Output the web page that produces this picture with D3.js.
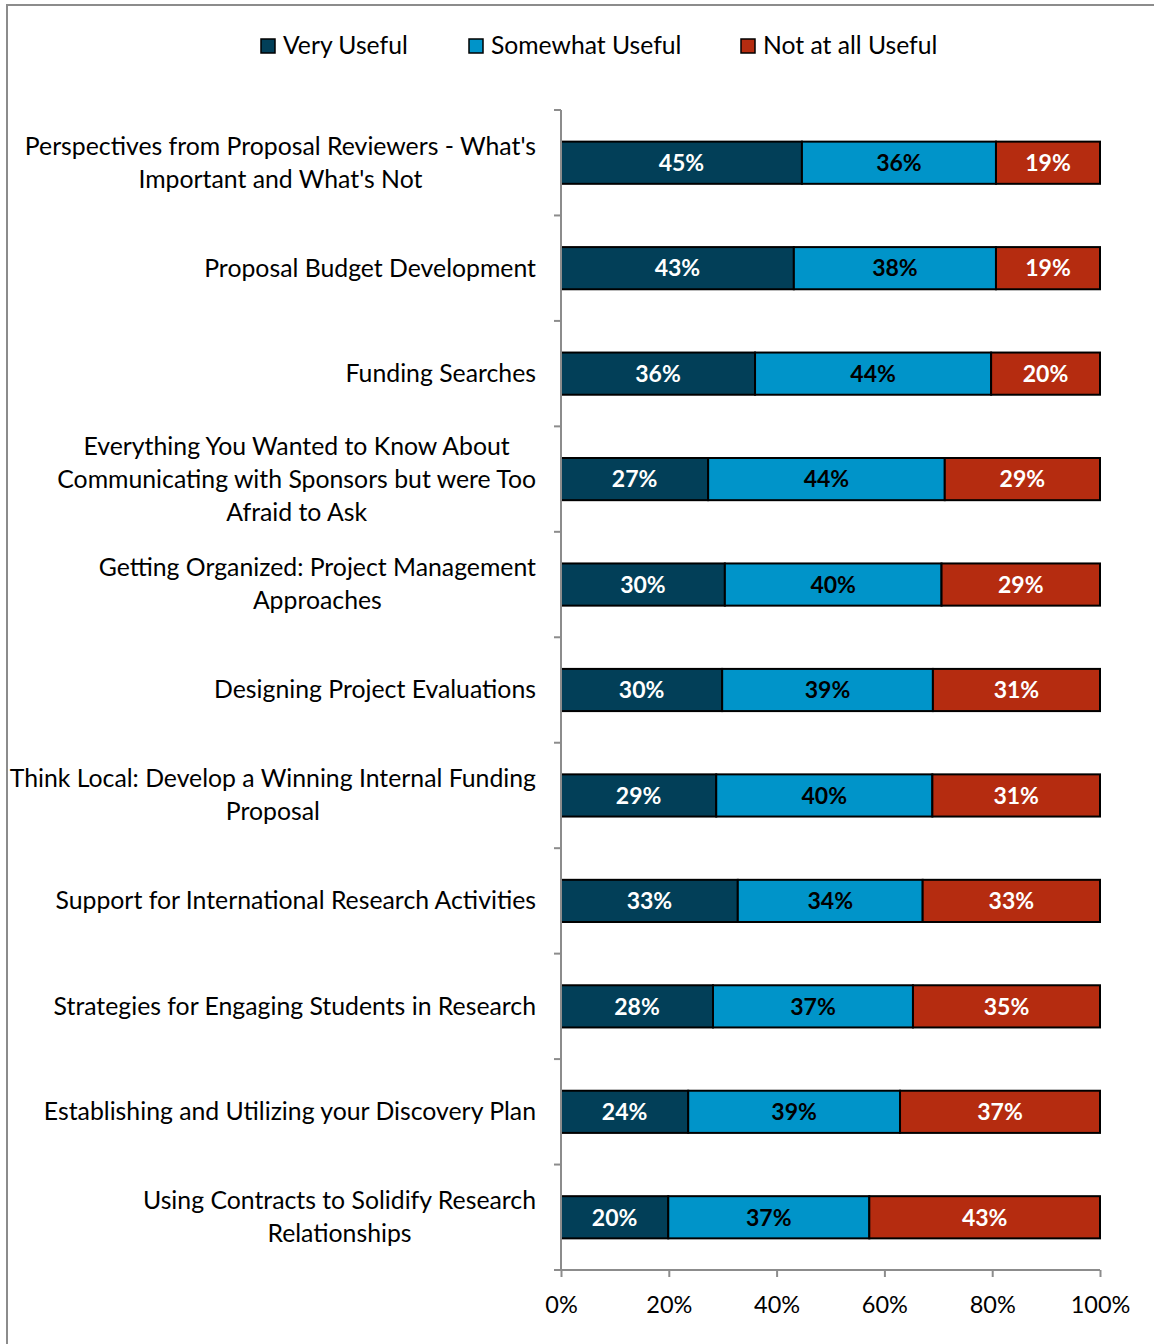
<!DOCTYPE html>
<html>
<head>
<meta charset="utf-8">
<script src="https://cdn.jsdelivr.net/npm/d3@7"></script>
<style>
  html, body { margin: 0; padding: 0; background: #fff; }
  svg { display: block; }
  text { font-family: Lato, "Open Sans", sans-serif; }
</style>
</head>
<body>
<svg id="chart" width="1154" height="1344"></svg>
<script>
// Workshop topics (top to bottom); "\n" marks a line break in the label
const categories = [
  "Perspectives from Proposal Reviewers - What's\nImportant and What's Not",
  "Proposal Budget Development",
  "Funding Searches",
  "Everything You Wanted to Know About\nCommunicating with Sponsors but were Too\nAfraid to Ask",
  "Getting Organized: Project Management\nApproaches",
  "Designing Project Evaluations",
  "Think Local: Develop a Winning Internal Funding\nProposal",
  "Support for International Research Activities",
  "Strategies for Engaging Students in Research",
  "Establishing and Utilizing your Discovery Plan",
  "Using Contracts to Solidify Research\nRelationships"
];

const seriesNames = ["Very Useful", "Somewhat Useful", "Not at all Useful"];

// Share of respondents (%) per rating
const veryUseful     = [44.7, 43.2, 36.0, 27.3, 30.4, 29.9, 28.8, 32.8, 28.2, 23.6, 19.9];
const somewhatUseful = [36.0, 37.5, 43.8, 43.9, 40.2, 39.1, 40.1, 34.3, 37.1, 39.3, 37.3];
const notUseful      = [19.3, 19.3, 20.2, 28.8, 29.4, 31.0, 31.1, 32.9, 34.7, 37.1, 42.8];

const xTicks = [0, 20, 40, 60, 80, 100];

const colors = ["#023f58", "#0094c9", "#b52c10"];
const labelColors = ["#ffffff", "#000000", "#ffffff"];

const svg = d3.select("#chart");
const W = 1154, H = 1344;

// outer frame lines (left and top)
svg.append("line").attr("x1", 7).attr("x2", 7).attr("y1", 4).attr("y2", H)
  .attr("stroke", "#8c8c8c").attr("stroke-width", 2);
svg.append("line").attr("x1", 6).attr("x2", W).attr("y1", 5).attr("y2", 5)
  .attr("stroke", "#8c8c8c").attr("stroke-width", 2);

const plot = { left: 561, right: 1100, top: 110, bottom: 1270 };

const x = d3.scaleLinear().domain([0, 100]).range([plot.left, plot.right]);
const y = d3.scaleBand().domain(categories).range([plot.top, plot.bottom])
  .paddingInner(0.6).paddingOuter(0.3);

const rows = categories.map((c, i) => ({
  cat: c,
  values: [veryUseful[i], somewhatUseful[i], notUseful[i]]
}));
const stack = d3.stack().keys([0, 1, 2]).value((d, k) => d.values[k]);
const layers = stack(rows);

// bars
const layerG = svg.append("g").selectAll("g").data(layers).join("g")
  .attr("fill", (d, i) => colors[i]);
layerG.selectAll("rect").data(d => d).join("rect")
  .attr("x", d => x(d[0]))
  .attr("y", d => y(d.data.cat))
  .attr("width", d => x(d[1]) - x(d[0]))
  .attr("height", y.bandwidth())
  .attr("stroke", "#000").attr("stroke-width", 2);

// value labels inside segments
layers.forEach((layer, k) => {
  svg.append("g").selectAll("text").data(layer).join("text")
    .attr("x", d => (x(d[0]) + x(d[1])) / 2)
    .attr("y", d => y(d.data.cat) + y.bandwidth() / 2)
    .attr("dy", "0.36em")
    .attr("text-anchor", "middle")
    .attr("font-size", 23)
    .attr("font-weight", "bold")
    .attr("fill", labelColors[k])
    .text(d => Math.round(d[1] - d[0]) + "%");
});

// axes
const axisColor = "#8c8c8c";
const step = y.step();
// vertical axis line with tick marks between categories
svg.append("line").attr("x1", plot.left).attr("x2", plot.left)
  .attr("y1", plot.top).attr("y2", plot.bottom)
  .attr("stroke", axisColor).attr("stroke-width", 2);
svg.append("g").selectAll("line").data(d3.range(categories.length + 1)).join("line")
  .attr("x1", plot.left - 7).attr("x2", plot.left)
  .attr("y1", i => plot.top + i * step).attr("y2", i => plot.top + i * step)
  .attr("stroke", axisColor).attr("stroke-width", 2);

const xAxis = d3.axisBottom(x).tickValues(xTicks).tickSize(7).tickPadding(19)
  .tickFormat(d => d + "%");
const xg = svg.append("g").attr("transform", `translate(0,${plot.bottom})`).call(xAxis);
xg.select(".domain").attr("stroke", axisColor).attr("stroke-width", 2)
  .attr("d", `M${plot.left - 6},0H${plot.right}`);
xg.selectAll(".tick line").attr("stroke", axisColor).attr("stroke-width", 2);
xg.selectAll(".tick text").attr("font-size", 23.5).attr("fill", "#000")
  .attr("font-family", "Lato, \"Open Sans\", sans-serif");

// category labels: multi-line blocks, centred lines, block right-aligned to axis
const labelRight = 536, lineH = 33, labelSize = 24.8;
categories.forEach(c => {
  const lines = c.split("\n");
  const g = svg.append("g");
  const texts = lines.map((ln, j) => g.append("text")
    .attr("font-size", labelSize).attr("fill", "#000")
    .attr("text-anchor", "middle")
    .attr("y", y(c) + y.bandwidth() / 2 + (j - (lines.length - 1) / 2) * lineH)
    .attr("dy", "0.34em")
    .text(ln));
  const maxW = d3.max(texts, t => t.node().getComputedTextLength());
  texts.forEach(t => t.attr("x", labelRight - maxW / 2));
});

// legend
const legendX = [261, 469, 741];
const lg = svg.append("g").selectAll("g").data(seriesNames).join("g")
  .attr("transform", (d, i) => `translate(${legendX[i]},46)`);
lg.append("rect").attr("x", 0).attr("y", -7).attr("width", 14).attr("height", 14)
  .attr("fill", (d, i) => colors[i]).attr("stroke", "#000").attr("stroke-width", 1.5);
lg.append("text").attr("x", 22).attr("dy", "0.34em").attr("font-size", 24.7)
  .attr("fill", "#000").text(d => d);
</script>
</body>
</html>
